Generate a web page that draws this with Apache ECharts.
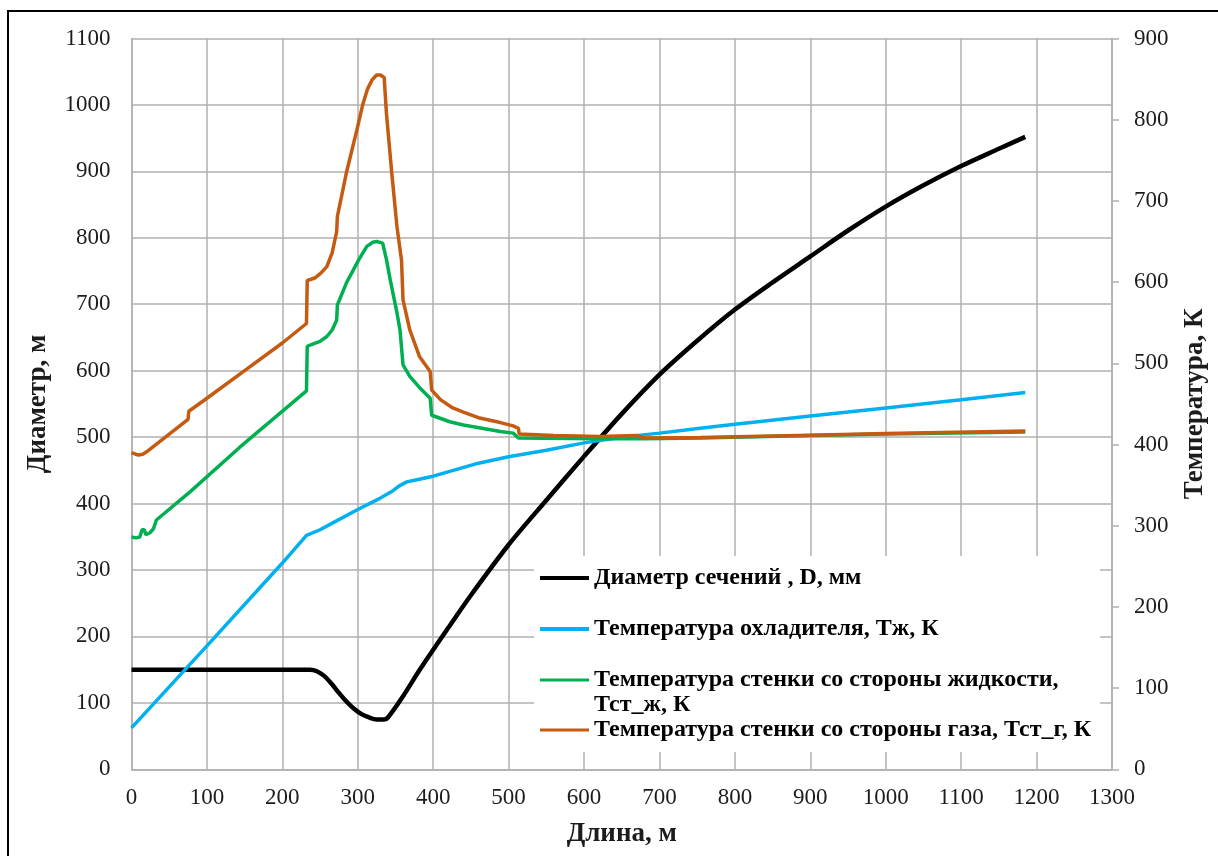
<!DOCTYPE html>
<html>
<head>
<meta charset="utf-8">
<script src="https://cdn.jsdelivr.net/npm/echarts@6/dist/echarts.min.js"></script>
<style>
  html, body { margin: 0; padding: 0; background: #fff; }
  #chart { width: 1218px; height: 856px; }
</style>
</head>
<body>
<div id="chart"></div>
<script>
// Axis ranges and tick steps
const lengthTicks = { min: 0, max: 1300, step: 100 };
const diamTicks = { min: 0, max: 1100, step: 100 };
const tempTicks = { min: 0, max: 900, step: 100 };

// Series names
const nameDiam = 'Диаметр сечений , D, мм';
const nameCool = 'Температура охладителя, Тж, К';
const nameWallLiq = 'Температура стенки со стороны жидкости, Тст_ж, К';
const nameWallGas = 'Температура стенки со стороны газа, Тст_г, К';

// Section diameter D, mm vs length, m  [length, D]
const diameter = [
  [0,150],[100,150],[200,150],[237,150],[245,148],[255,141],[265,129],[275,115],
  [285,102],[295,91],[305,83],[315,78],[325,75],[335,75],[340,78],[360,110],
  [380,146],[391,165],[420,213],[450,262],[500,338],[550,405],[600,471],[650,535],
  [700,594],[750,645],[800,692],[850,733],[900,772],[950,811],[1000,847],
  [1050,879],[1100,908],[1150,934],[1185,952]
];

// Coolant temperature Tж, K  [length, T]
const coolant = [
  [0,51],[100,152],[200,254],[232,288],[250,295],[270,305],[300,320],[330,334],
  [345,342],[355,349],[365,354],[380,357],[400,361],[430,369],[460,377],[500,385],
  [550,393],[600,402],[650,409],[700,414],[754,420],[800,425],[900,435],
  [1000,445],[1100,455],[1185,464]
];

// Wall temperature, liquid side Tст_ж, K
const wallLiquid = [
  [0,286],[6,285],[11,286],[14,295],[17,295],[19,289],[24,291],[29,296],[33,307],
  [78,342],[144,397],[232,466],[233,521],[241,524],[250,527],[259,533],[266,541],
  [272,553],[273,572],[285,599],[301,627],[312,644],[320,649],[325,650],[333,648],
  [338,628],[343,603],[352,562],[356,541],[360,498],[369,484],[382,470],[396,457],
  [398,436],[422,428],[440,424],[489,416],[506,414],[513,408],[620,407],[680,407],
  [754,408],[900,411],[1000,413],[1185,415.5]
];

// Wall temperature, gas side Tст_г, K
const wallGas = [
  [0,390],[9,387],[15,388],[20,391],[75,431],[76,441],[100,457],[150,491],[200,525],
  [232,549],[233,602],[243,605],[251,611],[259,619],[266,636],[272,662],[273,681],
  [285,735],[299,788],[307,820],[313,838],[319,849],[325,855],[330,855],[335,852],
  [338,808],[345,735],[352,668],[358,627],[360,578],[369,541],[382,508],[396,490],
  [398,467],[410,455],[426,445],[440,440],[460,433],[489,427],[506,423],[513,420],
  [514,413],[560,411],[620,410],[670,411],[680,408],[754,408.5],[900,411.5],
  [1000,413.5],[1185,416.5]
];

const FONT = '"Liberation Serif", "Times New Roman", serif';
const GRID_GREY = '#b3afaf';
const TEXT = '#1c1c1c';
const COLORS = { diam: '#000000', cool: '#00b0f0', liq: '#00b050', gas: '#c55a11' };

const chart = echarts.init(document.getElementById('chart'), null, { renderer: 'canvas' });

const legendText = { fontFamily: FONT, fontSize: 24, fontWeight: 'bold', color: '#000', lineHeight: 25 };
const legendBase = { orient: 'vertical', left: 540, padding: 0, icon: 'rect',
  itemWidth: 49, itemHeight: 4, textStyle: legendText };
const plainNumber = v => String(v);
const nameStyle = { fontFamily: FONT, fontSize: 27, fontWeight: 'bold', color: TEXT };
const tickStyle = { fontFamily: FONT, fontSize: 23, color: TEXT, formatter: plainNumber };

chart.setOption({
  backgroundColor: '#fff',
  animation: false,
  grid: { left: 131.5, right: 106, top: 38.5, bottom: 86.7 },
  graphic: [
    { type: 'rect', z: -1, shape: { x: 8, y: 11, width: 1300, height: 1000 },
      style: { fill: null, stroke: '#000', lineWidth: 2 } },
    { type: 'rect', z: 1, shape: { x: 534, y: 556, width: 566, height: 196 },
      style: { fill: '#fff', stroke: null } }
  ],
  legend: [
    Object.assign({}, legendBase, { data: [nameDiam, nameCool], top: 565.5, itemGap: 26 }),
    Object.assign({}, legendBase, { data: [nameWallLiq], top: 642.5, itemHeight: 3,
      formatter: () => ' \nТемпература стенки со стороны жидкости,\nТст_ж, К' }),
    Object.assign({}, legendBase, { data: [nameWallGas], top: 717.5, itemHeight: 3 })
  ],
  xAxis: {
    type: 'value', min: lengthTicks.min, max: lengthTicks.max, interval: lengthTicks.step,
    name: 'Длина, м', nameLocation: 'middle', nameGap: 51, nameTextStyle: nameStyle,
    axisLine: { show: true, lineStyle: { color: GRID_GREY, width: 1.5 } },
    axisTick: { show: false },
    axisLabel: Object.assign({ margin: 17 }, tickStyle),
    splitLine: { show: true, lineStyle: { color: GRID_GREY, width: 1.5 } }
  },
  yAxis: [
    {
      type: 'value', position: 'left', min: diamTicks.min, max: diamTicks.max, interval: diamTicks.step,
      name: 'Диаметр, м', nameLocation: 'middle', nameGap: 80, nameRotate: 90, nameTextStyle: nameStyle,
      axisLine: { show: true, lineStyle: { color: GRID_GREY, width: 1.5 } },
      axisTick: { show: false },
      axisLabel: Object.assign({ margin: 21 }, tickStyle),
      splitLine: { show: true, lineStyle: { color: GRID_GREY, width: 1.5 } }
    },
    {
      type: 'value', position: 'right', min: tempTicks.min, max: tempTicks.max, interval: tempTicks.step,
      name: 'Температура, К', nameLocation: 'middle', nameGap: 70, nameRotate: 90, nameTextStyle: nameStyle,
      axisLine: { show: true, lineStyle: { color: GRID_GREY, width: 1.5 } },
      axisTick: { show: true, inside: false, length: 7, lineStyle: { color: GRID_GREY, width: 1.5 } },
      axisLabel: Object.assign({ margin: 22 }, tickStyle),
      splitLine: { show: false }
    }
  ],
  series: [
    { name: nameDiam, type: 'line', yAxisIndex: 0, data: diameter, smooth: 0.3,
      symbol: 'none', lineStyle: { color: COLORS.diam, width: 4.5 }, itemStyle: { color: COLORS.diam } },
    { name: nameCool, type: 'line', yAxisIndex: 1, data: coolant,
      symbol: 'none', lineStyle: { color: COLORS.cool, width: 3.5 }, itemStyle: { color: COLORS.cool } },
    { name: nameWallLiq, type: 'line', yAxisIndex: 1, data: wallLiquid,
      symbol: 'none', lineStyle: { color: COLORS.liq, width: 3.5 }, itemStyle: { color: COLORS.liq } },
    { name: nameWallGas, type: 'line', yAxisIndex: 1, data: wallGas,
      symbol: 'none', lineStyle: { color: COLORS.gas, width: 3.5 }, itemStyle: { color: COLORS.gas } }
  ]
});
</script>
</body>
</html>
